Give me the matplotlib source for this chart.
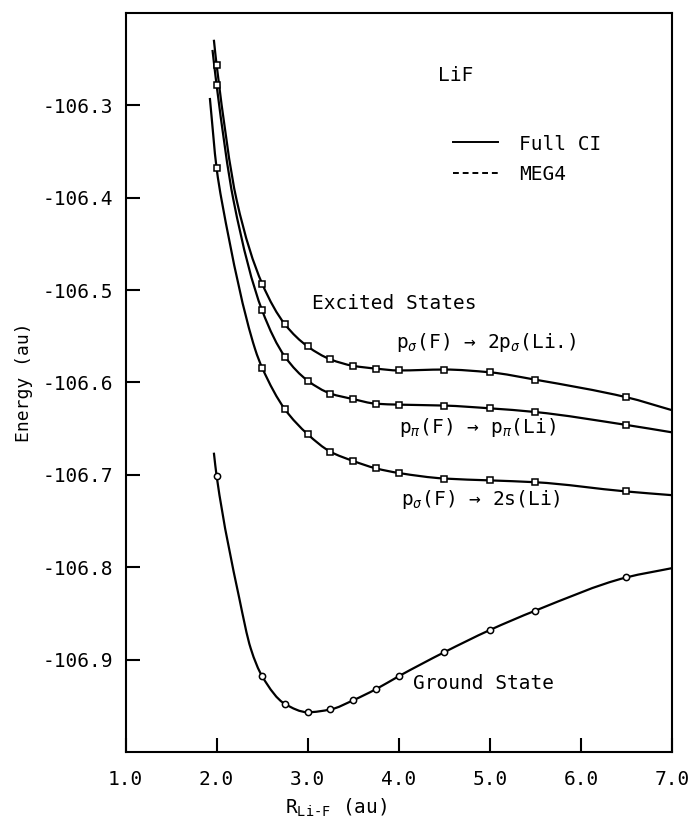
import numpy as np
import matplotlib
matplotlib.use("Agg")
import matplotlib.pyplot as plt
from matplotlib.path import Path
from matplotlib.patches import PathPatch

plt.rcParams['font.family'] = ['DejaVu Sans Mono', 'DejaVu Sans']
plt.rcParams['mathtext.fontset'] = 'custom'
plt.rcParams['mathtext.rm'] = 'DejaVu Sans Mono'
plt.rcParams['mathtext.it'] = 'DejaVu Sans Mono:italic'
plt.rcParams['mathtext.bf'] = 'DejaVu Sans Mono:bold'

# LiF potential curves, bond length in au, energies in au
r_pts = [2.0, 2.5, 2.75, 3.0, 3.25, 3.5, 3.75, 4.0, 4.5, 5.0, 5.5, 6.5]
ground = [-106.701, -106.918, -106.948, -106.957, -106.954, -106.944,
          -106.932, -106.918, -106.892, -106.868, -106.847, -106.811]
sig_2p = [-106.256, -106.493, -106.537, -106.561, -106.575, -106.582,
          -106.585, -106.587, -106.586, -106.589, -106.597, -106.616]
pi_pi = [-106.278, -106.522, -106.572, -106.598, -106.612, -106.618,
         -106.623, -106.624, -106.625, -106.628, -106.632, -106.646]
sig_2s = [-106.368, -106.584, -106.629, -106.656, -106.675, -106.685,
          -106.693, -106.698, -106.704, -106.706, -106.708, -106.718]

# extra points on the full CI lines (start, steep part, end at R = 7)
ground_line = [(1.97, -106.676), (2.25, -106.834), (2.375, -106.888),
               (7.0, -106.801)]
sig_2p_line = [(1.97, -106.229), (2.22, -106.4025), (7.0, -106.630)]
pi_pi_line = [(1.955, -106.240), (2.185, -106.4025), (7.0, -106.654)]
sig_2s_line = [(1.926, -106.292), (2.055, -106.4025), (2.423, -106.564),
               (7.0, -106.722)]


def smooth_path(x, y):
    # monotone cubic (Fritsch-Butland slopes) written as bezier segments
    x = np.asarray(x, float)
    y = np.asarray(y, float)
    h = np.diff(x)
    d = np.diff(y) / h
    m = np.zeros_like(x)
    m[0] = d[0]
    m[-1] = d[-1]
    for i in range(1, len(x) - 1):
        if d[i - 1] * d[i] > 0:
            w1 = 2 * h[i] + h[i - 1]
            w2 = h[i] + 2 * h[i - 1]
            m[i] = (w1 + w2) / (w1 / d[i - 1] + w2 / d[i])
    verts = [(x[0], y[0])]
    codes = [Path.MOVETO]
    for i in range(len(x) - 1):
        verts += [(x[i] + h[i] / 3, y[i] + m[i] * h[i] / 3),
                  (x[i + 1] - h[i] / 3, y[i + 1] - m[i + 1] * h[i] / 3),
                  (x[i + 1], y[i + 1])]
        codes += [Path.CURVE4] * 3
    return Path(verts, codes)


fig = plt.figure(figsize=(7, 8.31), dpi=100)
ax = fig.add_axes([0.1793, 0.0951, 0.7807, 0.8893])

for vals, extra, mk in [(ground, ground_line, 'o'), (sig_2p, sig_2p_line, 's'),
                        (pi_pi, pi_pi_line, 's'), (sig_2s, sig_2s_line, 's')]:
    pts = sorted(list(zip(r_pts, vals)) + extra)
    xs = [p[0] for p in pts]
    ys = [p[1] for p in pts]
    ax.add_patch(PathPatch(smooth_path(xs, ys), fill=False, lw=1.6,
                           color='black', zorder=2))
    ax.plot(r_pts, vals, linestyle='none', marker=mk, ms=4.5, mfc='white',
            mec='black', mew=1.1, zorder=3)

ax.set_xlim(1.0, 7.0)
ax.set_ylim(-107.0, -106.2)
ax.set_xticks([1.0, 2.0, 3.0, 4.0, 5.0, 6.0, 7.0])
ax.set_xticklabels(['1.0', '2.0', '3.0', '4.0', '5.0', '6.0', '7.0'])
ax.set_yticks([-106.9, -106.8, -106.7, -106.6, -106.5, -106.4, -106.3])
ax.set_yticklabels(['-106.9', '-106.8', '-106.7', '-106.6', '-106.5',
                    '-106.4', '-106.3'])
ax.tick_params(direction='in', length=10, width=1.5, labelsize=14)
ax.tick_params(axis='x', pad=13)
ax.tick_params(axis='y', pad=9)
for s in ax.spines.values():
    s.set_linewidth(1.5)

ax.set_ylabel('Energy (au)', fontsize=13)
ax.yaxis.set_label_coords(-0.17, 0.5)
ax.set_xlabel('R$_{\\mathrm{Li‐F}}$ (au)', fontsize=14)
ax.xaxis.set_label_coords(0.385, -0.06)

# legend drawn by hand
ax.text(4.43, -106.268, 'LiF', fontsize=14, va='center')
ax.plot([4.60, 5.09], [-106.340, -106.340], color='black', lw=1.4)
ax.plot([4.60, 5.09], [-106.373, -106.373], color='black', lw=1.4,
        linestyle=(0, (3, 2)))
ax.text(5.32, -106.342, 'Full CI', fontsize=14, va='center')
ax.text(5.32, -106.375, 'MEG4', fontsize=14, va='center')

ax.text(3.05, -106.514, 'Excited States', fontsize=14, va='center')
ax.text(3.97, -106.557, r'p$_\sigma$(F) → 2p$_\sigma$(Li.)', fontsize=14,
        va='center')
ax.text(4.0, -106.649, r'p$_\pi$(F) → p$_\pi$(Li)', fontsize=14, va='center')
ax.text(4.02, -106.727, r'p$_\sigma$(F) → 2s(Li)', fontsize=14, va='center')
ax.text(4.16, -106.926, 'Ground State', fontsize=14, va='center')

fig.savefig('out.png', dpi=100)
